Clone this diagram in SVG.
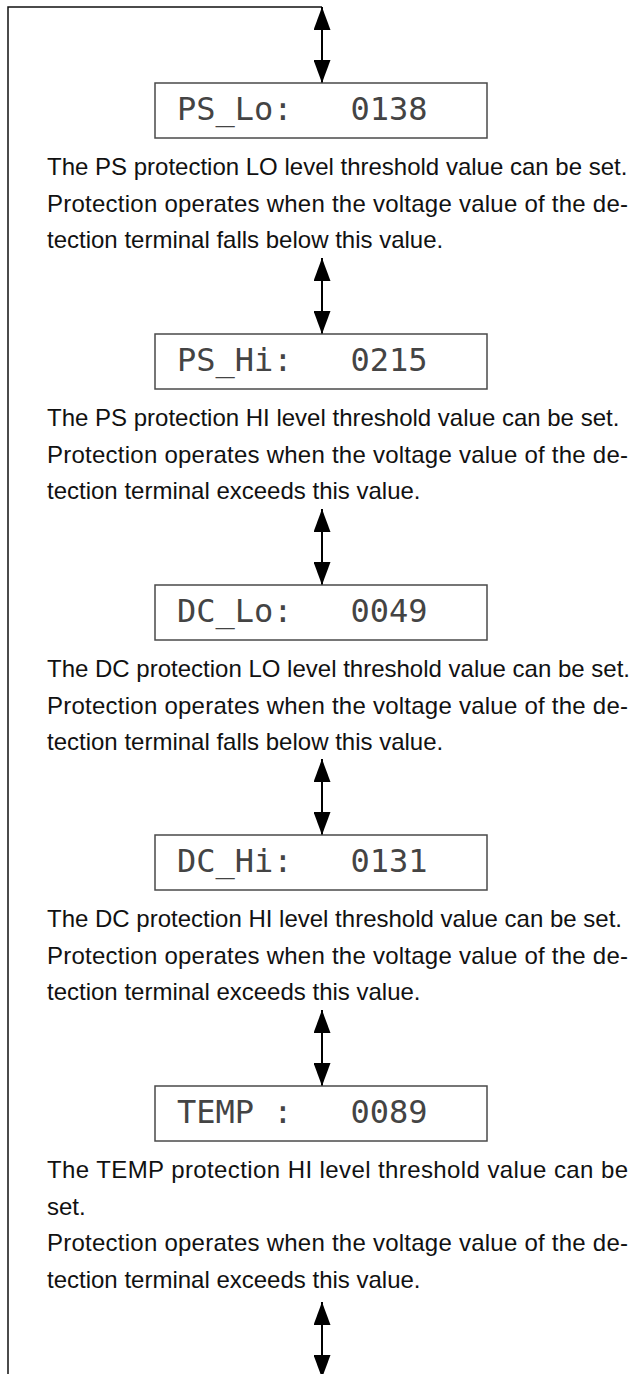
<svg xmlns="http://www.w3.org/2000/svg" width="633" height="1374" viewBox="0 0 633 1374">
<defs>
<style>
.box{fill:#fff;stroke:#4a4a4a;stroke-width:1.5}
.lcd{font-family:"DejaVu Sans Mono","Liberation Mono",monospace;font-size:32px;fill:#444;white-space:pre}
.desc{font-family:"Liberation Sans",Arial,sans-serif;font-size:24px;fill:#111}
.wire{fill:none;stroke:#111;stroke-width:1.5}
.arr{fill:none;stroke:#000;stroke-width:2;marker-start:url(#ah);marker-end:url(#ah)}
</style>
<marker id="ah" markerUnits="userSpaceOnUse" markerWidth="23" markerHeight="17" refX="23" refY="8.5" orient="auto-start-reverse" viewBox="0 0 23 17">
<path d="M0,0 L23,8.5 L0,17 z" fill="#000"/>
</marker>
</defs>
<g id="connectors">
<path class="wire" d="M8,1374 V7 H322"/>
<line class="arr" x1="322" y1="7" x2="322" y2="83"/>
<line class="arr" x1="322" y1="258" x2="322" y2="334"/>
<line class="arr" x1="322" y1="509" x2="322" y2="585"/>
<line class="arr" x1="322" y1="759" x2="322" y2="835"/>
<line class="arr" x1="322" y1="1010" x2="322" y2="1086"/>
<line class="arr" x1="322" y1="1302" x2="322" y2="1378"/>
</g>
<g id="ps-lo">
<rect class="box" x="155" y="83" width="332" height="55"/>
<text class="lcd" x="177" y="120" xml:space="preserve">PS_Lo:   0138</text>
<text class="desc" x="47" y="175">The PS protection LO level threshold value can be set.</text>
<text class="desc" x="47" y="211.5" textLength="581" lengthAdjust="spacing">Protection operates when the voltage value of the de-</text>
<text class="desc" x="47" y="248">tection terminal falls below this value.</text>
</g>
<g id="ps-hi">
<rect class="box" x="155" y="334" width="332" height="55"/>
<text class="lcd" x="177" y="371" xml:space="preserve">PS_Hi:   0215</text>
<text class="desc" x="47" y="426">The PS protection HI level threshold value can be set.</text>
<text class="desc" x="47" y="462.5" textLength="581" lengthAdjust="spacing">Protection operates when the voltage value of the de-</text>
<text class="desc" x="47" y="499">tection terminal exceeds this value.</text>
</g>
<g id="dc-lo">
<rect class="box" x="155" y="585" width="332" height="55"/>
<text class="lcd" x="177" y="622" xml:space="preserve">DC_Lo:   0049</text>
<text class="desc" x="47" y="677">The DC protection LO level threshold value can be set.</text>
<text class="desc" x="47" y="713.5" textLength="581" lengthAdjust="spacing">Protection operates when the voltage value of the de-</text>
<text class="desc" x="47" y="750">tection terminal falls below this value.</text>
</g>
<g id="dc-hi">
<rect class="box" x="155" y="835" width="332" height="55"/>
<text class="lcd" x="177" y="872" xml:space="preserve">DC_Hi:   0131</text>
<text class="desc" x="47" y="927">The DC protection HI level threshold value can be set.</text>
<text class="desc" x="47" y="963.5" textLength="581" lengthAdjust="spacing">Protection operates when the voltage value of the de-</text>
<text class="desc" x="47" y="1000">tection terminal exceeds this value.</text>
</g>
<g id="temp">
<rect class="box" x="155" y="1086" width="332" height="55"/>
<text class="lcd" x="177" y="1123" xml:space="preserve">TEMP :   0089</text>
<text class="desc" x="47" y="1178" textLength="581" lengthAdjust="spacing">The TEMP protection HI level threshold value can be</text>
<text class="desc" x="47" y="1215">set.</text>
<text class="desc" x="47" y="1251" textLength="581" lengthAdjust="spacing">Protection operates when the voltage value of the de-</text>
<text class="desc" x="47" y="1288">tection terminal exceeds this value.</text>
</g>
</svg>
